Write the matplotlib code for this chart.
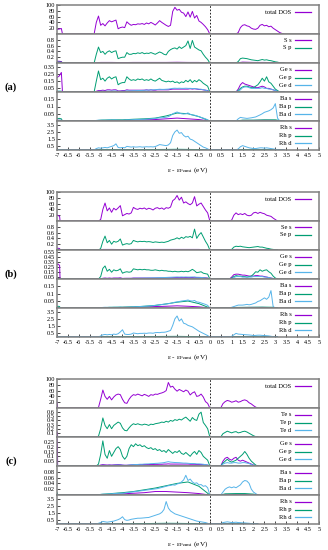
# PDOS panels (a) S, (b) Se, (c) Te  -- gnuplot-like stacked layout
import numpy as np
import matplotlib.pyplot as plt

plt.rcParams['font.family'] = ['Liberation Serif', 'DejaVu Serif']
plt.rcParams['axes.unicode_minus'] = False
plt.rcParams['mathtext.fontset'] = 'stix'

PURPLE = '#9400d3'
GREEN = '#009e73'
BLUE = '#56b4e9'

# ---------------- energy grids (eV) ----------------
core_a = [-7.0, -6.9, -6.8, -6.75]
core_b = [-7.0, -6.95, -6.88, -6.86]
core_c = [-7.0, -6.98, -6.97]

e_a = core_a + list(np.round(np.linspace(-5.3, 0.0, 54), 2)) + list(np.round(np.linspace(1.2, 3.4, 23), 2))
e_b = core_b + list(np.round(np.linspace(-5.1, 0.0, 52), 2)) + list(np.round(np.linspace(0.9, 3.1, 23), 2))
e_c = core_c + list(np.round(np.linspace(-5.2, 0.0, 53), 2)) + list(np.round(np.linspace(0.5, 2.2, 18), 2))

ec_a = core_a + [-5.3, -5.0, -4.5, -4.0, -3.5, -3.0, -2.5, -2.0, -1.5, -1.0, -0.5, 0.0] + [1.2, 1.5, 2.0, 2.5, 3.0, 3.4]
ec_b = core_b + [-5.1, -4.9, -4.5, -4.0, -3.5, -3.0, -2.5, -2.0, -1.5, -1.0, -0.5, 0.0] + [0.9, 1.2, 1.8, 2.4, 2.9, 3.1]
ec_c = core_c + [-5.2, -5.0, -4.5, -4.0, -3.5, -3.0, -2.5, -2.0, -1.5, -1.0, -0.5, 0.0] + [0.5, 0.7, 1.2, 1.6, 2.0, 2.2]

# ---------------- (a) ----------------
tot_a = [16, 17, 19, 0] + [
    0, 40, 62, 30, 36, 28, 38, 46, 42, 45,
    48, 18, 22, 24, 22, 42, 35, 30, 33, 32,
    35, 34, 36, 33, 38, 35, 40, 36, 31, 38,
    46, 40, 35, 30, 26, 30, 78, 92, 82, 85,
    75, 72, 60, 76, 58, 78, 55, 64, 45, 40,
    33, 25, 15, 0] + [
    0, 5, 22, 30, 32, 28, 26, 20, 17, 16, 20, 30, 33, 28, 30, 25, 27, 20, 15, 10, 5, 2, 0]

ss_a = [0.06, 0.06, 0.05, 0] + [0, 0.02, 0.02, 0.015, 0.02, 0.02, 0.02, 0.02, 0.025, 0.02, 0.02, 0] + [0, 0.03, 0.02, 0.02, 0.01, 0]
sp_a = [0.03, 0.03, 0.03, 0] + [
    0, 0.3, 0.55, 0.36, 0.4, 0.3, 0.38, 0.42, 0.36, 0.4,
    0.42, 0.15, 0.18, 0.2, 0.2, 0.36, 0.3, 0.3, 0.33, 0.32,
    0.35, 0.33, 0.36, 0.32, 0.34, 0.33, 0.36, 0.33, 0.3, 0.34,
    0.38, 0.35, 0.3, 0.28, 0.4, 0.46, 0.5, 0.52, 0.48, 0.56,
    0.5, 0.55, 0.6, 0.76, 0.5, 0.78, 0.55, 0.5, 0.45, 0.42,
    0.3, 0.2, 0.12, 0] + [
    0, 0.05, 0.15, 0.17, 0.16, 0.15, 0.13, 0.11, 0.1, 0.09, 0.08, 0.1, 0.12, 0.1, 0.11, 0.09, 0.08, 0.06, 0.04, 0.03, 0.01, 0, 0]

ges_a = [0.2, 0.22, 0.27, 0] + [
    0, 0.01, 0.02, 0.02, 0.025, 0.02, 0.03, 0.03, 0.025, 0.03,
    0.03, 0.015, 0.015, 0.02, 0.02, 0.03, 0.025, 0.025, 0.025, 0.025,
    0.025, 0.025, 0.025, 0.025, 0.03, 0.025, 0.03, 0.025, 0.025, 0.03,
    0.03, 0.03, 0.03, 0.03, 0.03, 0.035, 0.04, 0.04, 0.04, 0.04,
    0.04, 0.04, 0.04, 0.04, 0.045, 0.04, 0.045, 0.04, 0.035, 0.035,
    0.03, 0.025, 0.02, 0] + [
    0, 0.04, 0.1, 0.13, 0.11, 0.1, 0.09, 0.08, 0.07, 0.06, 0.06, 0.07, 0.08, 0.07, 0.05, 0.05, 0.04, 0.03, 0.02, 0.01, 0, 0, 0]
gep_a = [0.01, 0.01, 0.01, 0] + [
    0, 0.15, 0.29, 0.17, 0.19, 0.15, 0.19, 0.21, 0.18, 0.2,
    0.21, 0.1, 0.12, 0.13, 0.13, 0.21, 0.18, 0.16, 0.17, 0.16,
    0.18, 0.17, 0.18, 0.16, 0.17, 0.16, 0.18, 0.16, 0.15, 0.17,
    0.19, 0.16, 0.15, 0.14, 0.15, 0.14, 0.15, 0.13, 0.14, 0.12,
    0.14, 0.13, 0.16, 0.14, 0.17, 0.13, 0.16, 0.14, 0.17, 0.15,
    0.12, 0.1, 0.08, 0] + [
    0, 0.02, 0.05, 0.07, 0.08, 0.08, 0.07, 0.06, 0.06, 0.08, 0.1, 0.14, 0.19, 0.15, 0.21, 0.14, 0.12, 0.08, 0.04, 0.02, 0, 0, 0]
ged_a = [0.01, 0.01, 0.01, 0] + [
    0, 0.005, 0.01, 0.01, 0.01, 0.01, 0.012, 0.012, 0.012, 0.014,
    0.014, 0.01, 0.01, 0.012, 0.012, 0.016, 0.016, 0.016, 0.018, 0.018,
    0.02, 0.02, 0.022, 0.024, 0.026, 0.026, 0.03, 0.03, 0.032, 0.035,
    0.038, 0.036, 0.036, 0.038, 0.04, 0.045, 0.05, 0.052, 0.05, 0.052,
    0.05, 0.05, 0.052, 0.05, 0.05, 0.048, 0.046, 0.045, 0.04, 0.038,
    0.032, 0.025, 0.015, 0] + [
    0, 0.01, 0.03, 0.06, 0.07, 0.07, 0.06, 0.05, 0.05, 0.05, 0.05, 0.05, 0.06, 0.05, 0.05, 0.04, 0.04, 0.03, 0.02, 0.01, 0, 0, 0]

bas_a = [0.005, 0.005, 0.005, 0] + [0, 0.003, 0.004, 0.004, 0.006, 0.008, 0.01, 0.015, 0.02, 0.015, 0.01, 0] + [0, 0.004, 0.004, 0.005, 0.004, 0]
bap_a = [0.015, 0.018, 0.015, 0] + [0, 0.006, 0.008, 0.008, 0.012, 0.015, 0.02, 0.035, 0.055, 0.05, 0.03, 0] + [0, 0.006, 0.006, 0.008, 0.008, 0]
bad_a = [0.005, 0.005, 0.005, 0] + [
    0, 0.004, 0.006, 0.005, 0.006, 0.005, 0.006, 0.007, 0.006, 0.007,
    0.007, 0.005, 0.005, 0.006, 0.006, 0.008, 0.008, 0.008, 0.009, 0.01,
    0.01, 0.011, 0.012, 0.012, 0.013, 0.014, 0.015, 0.016, 0.017, 0.02,
    0.022, 0.022, 0.024, 0.026, 0.03, 0.038, 0.05, 0.056, 0.062, 0.055,
    0.05, 0.048, 0.05, 0.056, 0.045, 0.042, 0.04, 0.035, 0.03, 0.025,
    0.02, 0.015, 0.008, 0] + [
    0, 0.015, 0.025, 0.022, 0.02, 0.018, 0.02, 0.022, 0.025, 0.028, 0.035, 0.042, 0.05, 0.06, 0.065, 0.07, 0.078, 0.09, 0.12, 0.02, 0, 0, 0]

rhs_a = [0.03, 0.03, 0.03, 0] + [0, 0.04, 0.04, 0.03, 0.04, 0.04, 0.04, 0.05, 0.06, 0.05, 0.04, 0] + [0, 0.04, 0.03, 0.03, 0.02, 0]
rhp_a = [0.04, 0.05, 0.04, 0] + [0, 0.06, 0.07, 0.05, 0.06, 0.06, 0.07, 0.08, 0.1, 0.08, 0.06, 0] + [0, 0.06, 0.05, 0.05, 0.03, 0]
rhd_a = [0.05, 0.05, 0.05, 0] + [
    0, 0.2, 0.3, 0.25, 0.3, 0.35, 0.3, 0.4, 0.5, 0.6,
    0.85, 0.35, 0.3, 0.35, 0.3, 0.5, 0.45, 0.4, 0.45, 0.4,
    0.42, 0.45, 0.4, 0.42, 0.45, 0.43, 0.45, 0.42, 0.48, 0.6,
    0.75, 0.7, 0.65, 0.6, 0.7, 1.0, 2.0, 2.5, 2.75, 2.3,
    2.4, 2.0, 1.8, 1.9, 1.5, 1.4, 1.2, 1.0, 0.8, 0.6,
    0.4, 0.3, 0.15, 0] + [
    0, 0.15, 0.45, 0.6, 0.5, 0.4, 0.3, 0.25, 0.2, 0.2, 0.25, 0.3, 0.3, 0.25, 0.3, 0.25, 0.2, 0.15, 0.1, 0.05, 0.02, 0, 0]

# ---------------- (b) ----------------
tot_b = [20, 19, 16, 0] + [
    0, 5, 40, 62, 35, 45, 30, 44, 38, 45,
    53, 18, 22, 26, 24, 28, 47, 42, 40, 44,
    42, 45, 40, 44, 42, 38, 44, 46, 42, 45,
    40, 46, 44, 48, 70, 76, 88, 72, 82, 62,
    66, 60, 56, 62, 84, 52, 58, 62, 50, 38,
    28, 0] + [
    0, 3, 20, 28, 22, 25, 22, 26, 20, 18, 20, 28, 30, 26, 30, 27, 25, 20, 18, 16, 10, 5, 0]

ses_b = [0.06, 0.06, 0.05, 0] + [0, 0.02, 0.02, 0.015, 0.02, 0.02, 0.02, 0.02, 0.02, 0.02, 0.02, 0] + [0, 0.02, 0.015, 0.015, 0.01, 0]
sep_b = [0.02, 0.02, 0.02, 0] + [
    0, 0.05, 0.3, 0.48, 0.25, 0.33, 0.2, 0.3, 0.27, 0.3,
    0.38, 0.17, 0.2, 0.22, 0.2, 0.22, 0.33, 0.3, 0.28, 0.3,
    0.29, 0.3, 0.28, 0.29, 0.28, 0.26, 0.28, 0.27, 0.26, 0.27,
    0.26, 0.28, 0.3, 0.34, 0.36, 0.38, 0.42, 0.38, 0.44, 0.4,
    0.46, 0.44, 0.47, 0.42, 0.72, 0.4, 0.52, 0.6, 0.45, 0.3,
    0.18, 0] + [
    0, 0.02, 0.1, 0.13, 0.12, 0.13, 0.11, 0.1, 0.09, 0.08, 0.09, 0.1, 0.11, 0.12, 0.1, 0.1, 0.08, 0.06, 0.05, 0.03, 0.02, 0.01, 0]

ges_b = [0.3, 0.31, 0.28, 0] + [
    0, 0.005, 0.015, 0.02, 0.015, 0.02, 0.015, 0.02, 0.02, 0.02,
    0.025, 0.012, 0.015, 0.015, 0.015, 0.015, 0.02, 0.02, 0.02, 0.02,
    0.02, 0.02, 0.02, 0.02, 0.02, 0.02, 0.02, 0.022, 0.022, 0.022,
    0.022, 0.024, 0.025, 0.026, 0.028, 0.03, 0.03, 0.03, 0.03, 0.03,
    0.032, 0.03, 0.032, 0.03, 0.035, 0.03, 0.03, 0.03, 0.028, 0.025,
    0.02, 0] + [
    0, 0.04, 0.09, 0.1, 0.1, 0.09, 0.08, 0.08, 0.07, 0.06, 0.06, 0.06, 0.07, 0.07, 0.06, 0.06, 0.05, 0.04, 0.03, 0.02, 0.01, 0, 0]
gep_b = [0.01, 0.01, 0.01, 0] + [
    0, 0.05, 0.22, 0.27, 0.16, 0.2, 0.14, 0.19, 0.17, 0.18,
    0.21, 0.12, 0.14, 0.15, 0.14, 0.15, 0.21, 0.2, 0.19, 0.2,
    0.19, 0.2, 0.19, 0.19, 0.18, 0.18, 0.19, 0.18, 0.17, 0.18,
    0.17, 0.17, 0.16, 0.16, 0.15, 0.16, 0.15, 0.15, 0.16, 0.15,
    0.16, 0.15, 0.17, 0.2, 0.17, 0.13, 0.14, 0.15, 0.12, 0.11,
    0.1, 0] + [
    0, 0.02, 0.05, 0.07, 0.06, 0.06, 0.05, 0.05, 0.04, 0.05, 0.06, 0.1, 0.15, 0.14, 0.19, 0.16, 0.18, 0.19, 0.15, 0.12, 0.06, 0.02, 0]
ged_b = [0.01, 0.01, 0.01, 0] + [
    0, 0.004, 0.01, 0.012, 0.01, 0.012, 0.01, 0.012, 0.012, 0.012,
    0.014, 0.01, 0.01, 0.012, 0.012, 0.012, 0.015, 0.016, 0.016, 0.018,
    0.018, 0.02, 0.02, 0.022, 0.022, 0.024, 0.025, 0.026, 0.028, 0.028,
    0.03, 0.032, 0.034, 0.036, 0.038, 0.04, 0.042, 0.04, 0.042, 0.04,
    0.042, 0.04, 0.04, 0.042, 0.04, 0.036, 0.035, 0.032, 0.028, 0.022,
    0.015, 0] + [
    0, 0.01, 0.03, 0.05, 0.05, 0.05, 0.04, 0.04, 0.04, 0.04, 0.04, 0.05, 0.05, 0.05, 0.05, 0.05, 0.04, 0.04, 0.03, 0.02, 0.01, 0, 0]

bas_b = [0.004, 0.004, 0.004, 0] + [0, 0.002, 0.003, 0.004, 0.005, 0.007, 0.01, 0.012, 0.015, 0.012, 0.008, 0] + [0, 0.003, 0.004, 0.004, 0.003, 0]
bap_b = [0.01, 0.012, 0.01, 0] + [0, 0.003, 0.005, 0.006, 0.008, 0.012, 0.018, 0.028, 0.04, 0.048, 0.03, 0] + [0, 0.004, 0.005, 0.006, 0.005, 0]
bad_b = [0.004, 0.004, 0.004, 0] + [
    0, 0.002, 0.004, 0.005, 0.004, 0.005, 0.004, 0.005, 0.005, 0.005,
    0.006, 0.004, 0.005, 0.005, 0.006, 0.006, 0.008, 0.008, 0.009, 0.01,
    0.011, 0.012, 0.013, 0.014, 0.015, 0.016, 0.018, 0.02, 0.022, 0.024,
    0.026, 0.028, 0.03, 0.032, 0.036, 0.04, 0.042, 0.045, 0.048, 0.05,
    0.052, 0.055, 0.05, 0.048, 0.052, 0.042, 0.04, 0.035, 0.03, 0.025,
    0.018, 0] + [
    0, 0.005, 0.01, 0.015, 0.02, 0.02, 0.02, 0.022, 0.025, 0.022, 0.025, 0.03, 0.035, 0.045, 0.05, 0.06, 0.07, 0.06, 0.075, 0.12, 0.01, 0, 0]

rhs_b = [0.03, 0.03, 0.03, 0] + [0, 0.03, 0.04, 0.03, 0.04, 0.04, 0.04, 0.05, 0.05, 0.04, 0.03, 0] + [0, 0.03, 0.03, 0.02, 0.01, 0]
rhp_b = [0.04, 0.04, 0.04, 0] + [0, 0.05, 0.06, 0.05, 0.06, 0.06, 0.07, 0.08, 0.09, 0.07, 0.05, 0] + [0, 0.05, 0.04, 0.04, 0.02, 0]
rhd_b = [0.05, 0.05, 0.05, 0] + [
    0, 0.15, 0.3, 0.35, 0.3, 0.35, 0.3, 0.4, 0.35, 0.45,
    0.7, 1.0, 0.4, 0.35, 0.35, 0.4, 0.55, 0.5, 0.45, 0.5,
    0.5, 0.52, 0.5, 0.55, 0.55, 0.52, 0.6, 0.62, 0.6, 0.65,
    0.65, 0.7, 0.8, 0.9, 1.6, 2.5, 2.9, 2.2, 2.5, 1.9,
    1.8, 1.6, 1.5, 1.4, 1.2, 1.0, 0.8, 0.65, 0.5, 0.35,
    0.2, 0] + [
    0, 0.1, 0.3, 0.5, 0.4, 0.38, 0.35, 0.32, 0.3, 0.28, 0.25, 0.2, 0.22, 0.25, 0.25, 0.22, 0.2, 0.18, 0.15, 0.1, 0.05, 0, 0]

# ---------------- (c) ----------------
tot_c = [20, 10, 0] + [
    0, 2, 30, 62, 40, 30, 40, 28, 38, 45,
    48, 46, 30, 18, 16, 30, 40, 46, 44, 48,
    45, 42, 47, 44, 40, 46, 44, 48, 47, 50,
    52, 55, 60, 88, 72, 75, 65, 58, 64, 60,
    56, 62, 58, 45, 52, 56, 40, 42, 48, 38,
    22, 16, 0] + [
    0, 15, 22, 26, 24, 20, 22, 25, 20, 22, 26, 28, 25, 18, 14, 8, 3, 0]

tes_c = [0.12, 0.1, 0] + [0, 0.005, 0.01, 0.01, 0.01, 0.01, 0.01, 0.01, 0.012, 0.012, 0.01, 0] + [0, 0.01, 0.01, 0.01, 0.005, 0]
tep_c = [0.02, 0.02, 0] + [
    0, 0.02, 0.2, 0.46, 0.28, 0.2, 0.3, 0.2, 0.28, 0.32,
    0.36, 0.33, 0.22, 0.16, 0.15, 0.22, 0.28, 0.32, 0.3, 0.32,
    0.3, 0.29, 0.31, 0.3, 0.28, 0.31, 0.3, 0.32, 0.33, 0.34,
    0.36, 0.35, 0.38, 0.36, 0.4, 0.38, 0.42, 0.4, 0.43, 0.41,
    0.45, 0.48, 0.43, 0.38, 0.47, 0.42, 0.4, 0.55, 0.6, 0.35,
    0.28, 0.2, 0] + [
    0, 0.08, 0.11, 0.14, 0.12, 0.1, 0.12, 0.13, 0.1, 0.11, 0.13, 0.14, 0.12, 0.09, 0.06, 0.03, 0.01, 0]
ted_c = [0.01, 0.01, 0] + [0, 0.005, 0.008, 0.008, 0.008, 0.01, 0.01, 0.012, 0.012, 0.012, 0.01, 0] + [0, 0.01, 0.012, 0.012, 0.006, 0]

ges_c = [0.28, 0.2, 0] + [
    0, 0.003, 0.01, 0.015, 0.012, 0.01, 0.012, 0.01, 0.012, 0.014,
    0.015, 0.014, 0.01, 0.008, 0.008, 0.01, 0.012, 0.014, 0.014, 0.015,
    0.015, 0.015, 0.016, 0.016, 0.015, 0.016, 0.016, 0.017, 0.017, 0.018,
    0.018, 0.02, 0.02, 0.022, 0.02, 0.02, 0.02, 0.02, 0.02, 0.02,
    0.02, 0.02, 0.02, 0.018, 0.018, 0.018, 0.016, 0.016, 0.016, 0.014,
    0.012, 0.01, 0] + [
    0, 0.05, 0.08, 0.09, 0.07, 0.06, 0.08, 0.09, 0.06, 0.05, 0.06, 0.05, 0.04, 0.03, 0.02, 0.01, 0.005, 0]
gep_c = [0.01, 0.01, 0] + [
    0, 0.02, 0.12, 0.26, 0.12, 0.08, 0.16, 0.1, 0.14, 0.18,
    0.2, 0.17, 0.1, 0.07, 0.1, 0.18, 0.22, 0.2, 0.23, 0.21,
    0.22, 0.2, 0.21, 0.19, 0.18, 0.19, 0.17, 0.18, 0.16, 0.17,
    0.15, 0.16, 0.14, 0.17, 0.15, 0.13, 0.15, 0.14, 0.16, 0.13,
    0.12, 0.14, 0.12, 0.1, 0.13, 0.15, 0.12, 0.16, 0.14, 0.1,
    0.08, 0.06, 0] + [
    0, 0.03, 0.05, 0.07, 0.05, 0.04, 0.05, 0.06, 0.08, 0.1, 0.12, 0.15, 0.12, 0.08, 0.05, 0.03, 0.01, 0]
ged_c = [0.01, 0.01, 0] + [
    0, 0.002, 0.006, 0.008, 0.007, 0.006, 0.008, 0.007, 0.008, 0.01,
    0.01, 0.01, 0.008, 0.007, 0.007, 0.01, 0.012, 0.014, 0.015, 0.016,
    0.018, 0.018, 0.02, 0.021, 0.022, 0.024, 0.025, 0.027, 0.028, 0.03,
    0.032, 0.035, 0.04, 0.045, 0.04, 0.038, 0.036, 0.035, 0.034, 0.032,
    0.03, 0.03, 0.028, 0.026, 0.026, 0.025, 0.022, 0.022, 0.02, 0.018,
    0.014, 0.01, 0] + [
    0, 0.02, 0.03, 0.035, 0.03, 0.03, 0.035, 0.035, 0.03, 0.03, 0.035, 0.035, 0.03, 0.025, 0.015, 0.008, 0.003, 0]

bas_c = [0.003, 0.003, 0] + [0, 0.001, 0.002, 0.004, 0.006, 0.008, 0.012, 0.012, 0.01, 0.008, 0.005, 0] + [0, 0.002, 0.002, 0.002, 0.001, 0]
bap_c = [0.008, 0.006, 0] + [0, 0.002, 0.005, 0.008, 0.012, 0.018, 0.024, 0.032, 0.04, 0.045, 0.03, 0] + [0, 0.004, 0.005, 0.005, 0.003, 0]
bad_c = [0.003, 0.003, 0] + [
    0, 0.001, 0.002, 0.003, 0.003, 0.003, 0.004, 0.004, 0.005, 0.005,
    0.006, 0.006, 0.006, 0.007, 0.008, 0.009, 0.01, 0.011, 0.012, 0.013,
    0.014, 0.015, 0.016, 0.017, 0.018, 0.019, 0.02, 0.021, 0.022, 0.024,
    0.026, 0.028, 0.03, 0.032, 0.033, 0.035, 0.034, 0.038, 0.04, 0.045,
    0.052, 0.068, 0.05, 0.055, 0.045, 0.04, 0.042, 0.035, 0.036, 0.03,
    0.032, 0.025, 0] + [
    0, 0.01, 0.02, 0.025, 0.028, 0.025, 0.028, 0.025, 0.03, 0.035, 0.045, 0.05, 0.048, 0.04, 0.02, 0.01, 0.005, 0]

rhs_c = [0.01, 0.01, 0] + [0, 0.01, 0.02, 0.02, 0.02, 0.03, 0.03, 0.04, 0.03, 0.03, 0.02, 0] + [0, 0.01, 0.01, 0.01, 0.01, 0]
rhp_c = [0.02, 0.02, 0] + [0, 0.02, 0.03, 0.04, 0.05, 0.06, 0.08, 0.1, 0.09, 0.07, 0.05, 0] + [0, 0.03, 0.03, 0.03, 0.02, 0]
rhd_c = [0.05, 0.05, 0] + [
    0, 0.1, 0.2, 0.35, 0.3, 0.25, 0.3, 0.35, 0.4, 0.5,
    0.6, 0.75, 1.0, 0.6, 0.5, 0.55, 0.65, 0.7, 0.75, 0.8,
    0.8, 0.82, 0.85, 0.88, 0.9, 1.0, 1.1, 1.2, 1.3, 1.4,
    1.6, 2.0, 3.1, 2.2, 1.8, 1.6, 1.4, 1.3, 1.2, 1.1,
    1.0, 0.9, 0.8, 0.7, 0.6, 0.5, 0.4, 0.35, 0.3, 0.25,
    0.2, 0.1, 0] + [
    0, 0.2, 0.25, 0.3, 0.25, 0.2, 0.22, 0.25, 0.2, 0.18, 0.15, 0.15, 0.12, 0.1, 0.06, 0.03, 0.01, 0]

# ---------------- panel layout ----------------
groups = [
    ('(a)', 5, 170, 87, [
        ([0, 100], [20, 40, 60, 80, 100], [('total DOS', e_a, tot_a, PURPLE)]),
        ([0, 1], [0.2, 0.4, 0.6, 0.8], [('S s', ec_a, ss_a, PURPLE), ('S p', e_a, sp_a, GREEN)]),
        ([0, 0.4], [0.05, 0.15, 0.25, 0.35], [('Ge s', e_a, ges_a, PURPLE), ('Ge p', e_a, gep_a, GREEN), ('Ge d', e_a, ged_a, BLUE)]),
        ([0, 0.2], [0.05, 0.1, 0.15], [('Ba s', ec_a, bas_a, PURPLE), ('Ba p', ec_a, bap_a, GREEN), ('Ba d', e_a, bad_a, BLUE)]),
        ([0, 4], [0.5, 1.5, 2.5, 3.5], [('Rh s', ec_a, rhs_a, PURPLE), ('Rh p', ec_a, rhp_a, GREEN), ('Rh d', e_a, rhd_a, BLUE)]),
    ]),
    ('(b)', 192, 357, 274, [
        ([0, 100], [20, 40, 60, 80, 100], [('total DOS', e_b, tot_b, PURPLE)]),
        ([0, 1], [0.2, 0.4, 0.6, 0.8], [('Se s', ec_b, ses_b, PURPLE), ('Se p', e_b, sep_b, GREEN)]),
        ([0, 0.6], [0.05, 0.15, 0.25, 0.35, 0.45, 0.55], [('Ge s', e_b, ges_b, PURPLE), ('Ge p', e_b, gep_b, GREEN), ('Ge d', e_b, ged_b, BLUE)]),
        ([0, 0.2], [0.05, 0.1, 0.15], [('Ba s', ec_b, bas_b, PURPLE), ('Ba p', ec_b, bap_b, GREEN), ('Ba d', e_b, bad_b, BLUE)]),
        ([0, 4], [0.5, 1.5, 2.5, 3.5], [('Rh s', ec_b, rhs_b, PURPLE), ('Rh p', ec_b, rhp_b, GREEN), ('Rh d', e_b, rhd_b, BLUE)]),
    ]),
    ('(c)', 379, 544, 461, [
        ([0, 100], [20, 40, 60, 80, 100], [('total DOS', e_c, tot_c, PURPLE)]),
        ([0, 0.7], [0.1, 0.2, 0.3, 0.4, 0.5, 0.6], [('Te s', ec_c, tes_c, PURPLE), ('Te p', e_c, tep_c, GREEN), ('Te d', ec_c, ted_c, BLUE)]),
        ([0, 0.3], [0.05, 0.1, 0.15, 0.2, 0.25], [('Ge s', e_c, ges_c, PURPLE), ('Ge p', e_c, gep_c, GREEN), ('Ge d', e_c, ged_c, BLUE)]),
        ([0, 0.1], [0.02, 0.04, 0.06, 0.08], [('Ba s', ec_c, bas_c, PURPLE), ('Ba p', ec_c, bap_c, GREEN), ('Ba d', e_c, bad_c, BLUE)]),
        ([0, 4], [0.5, 1.5, 2.5, 3.5], [('Rh s', ec_c, rhs_c, PURPLE), ('Rh p', ec_c, rhp_c, GREEN), ('Rh d', e_c, rhd_c, BLUE)]),
    ]),
]

W, H = 328, 550
fig = plt.figure(figsize=(W / 100, H / 100), dpi=100)

left, width, ph = 57 / W, 262 / W, 29
xt = np.arange(-7, 5.01, 0.5)

for tag, top, xlab_y, tag_y, panels in groups:
    for i, (ylim, yt, curves) in enumerate(panels):
        bottom = 1 - (top + ph * (i + 1)) / H
        ax = fig.add_axes([left, bottom, width, ph / H])
        for lab, xx, yy, col in curves:
            ax.plot(xx, yy, color=col, lw=0.7)
        ax.axvline(0, color='k', lw=0.6, ls=(0, (2, 2)))
        ax.set_xlim(-7, 5)
        ax.set_ylim(*ylim)
        ax.set_yticks(yt)
        ax.set_yticklabels(['%g' % v for v in yt])
        ax.tick_params(axis='y', direction='in', length=2, width=0.5, labelsize=4.6, pad=1.5)
        if i == len(panels) - 1:
            ax.set_xticks(xt)
            ax.set_xticklabels(['%g' % v for v in xt])
            ax.tick_params(axis='x', direction='in', length=2, width=0.5, labelsize=4.5, pad=2.5)
        else:
            ax.set_xticks([])
        for s in ax.spines.values():
            s.set_color('#808080')
            s.set_linewidth(1.1)
        # gnuplot style key: text then line sample
        n = len(curves)
        y0 = 0.76 if n > 1 else 0.75
        if n == 2:
            y0 = 0.79
        for k, (lab, xx, yy, col) in enumerate(curves):
            yk = y0 - 0.26 * k
            ax.text(0.895, yk, lab, transform=ax.transAxes, ha='right', va='center', fontsize=4.7)
            ax.plot([0.907, 0.97], [yk, yk], transform=ax.transAxes, color=col, lw=0.9)
    fig.text(188 / W, 1 - xlab_y / H, 'ε - ε$_{\\mathrm{Fermi}}$ (eV)', ha='center', va='center', fontsize=5.2)
    fig.text(11 / W, 1 - tag_y / H, tag, ha='center', va='center', fontsize=7.5, fontweight='bold')

fig.savefig('out.png', dpi=100)
